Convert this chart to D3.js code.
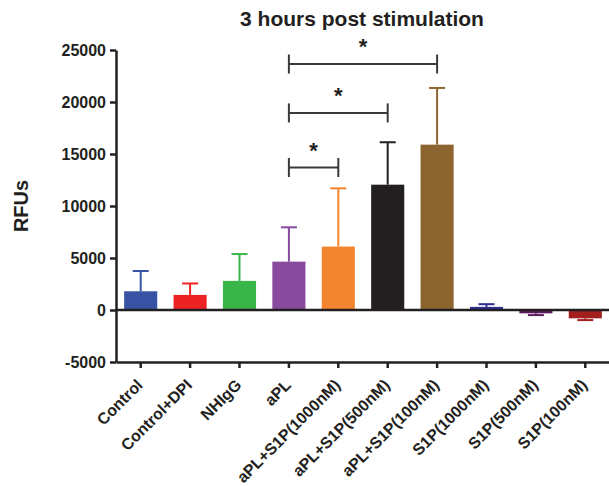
<!DOCTYPE html>
<html>
<head>
<meta charset="utf-8">
<script src="https://cdn.jsdelivr.net/npm/d3@7"></script>
<style>
  body { margin: 0; background: #fff; }
  text { font-family: "Liberation Sans", Arial, sans-serif; font-weight: bold; fill: #231f20; }
</style>
</head>
<body>
<div class="canva"></div>
<script>
// data
const groups = ['Control', 'Control+DPI', 'NHIgG', 'aPL', 'aPL+S1P(1000nM)',
  'aPL+S1P(500nM)', 'aPL+S1P(100nM)', 'S1P(1000nM)', 'S1P(500nM)', 'S1P(100nM)'];
const means = [1800, 1450, 2800, 4650, 6100, 12050, 15900, 300, -320, -800];
const sds = [1950, 1100, 2580, 3300, 5600, 4080, 5450, 260, 170, 170];
const colors = ['#3953a4', '#ed2224', '#3ab54a', '#874a9c', '#f3852f',
  '#231f20', '#8c6430', '#2e3192', '#5b1a5e', '#a3201f'];
const yTicks = [-5000, 0, 5000, 10000, 15000, 20000, 25000];
// significance brackets: from group, to group, height
const sigFrom = ['aPL', 'aPL', 'aPL'];
const sigTo = ['aPL+S1P(1000nM)', 'aPL+S1P(500nM)', 'aPL+S1P(100nM)'];
const sigLevel = [13700, 18950, 23650];

const width = 609, height = 486;
const margin = { left: 116, top: 50, bottom: 362, right: 610 };

const svg = d3.select('.canva').append('svg')
  .attr('width', width)
  .attr('height', height);

const y = d3.scaleLinear().domain([-5000, 25000]).range([margin.bottom, margin.top]);
const x = d3.scaleBand().domain(groups).range([margin.left, margin.right])
  .paddingInner(0.33).paddingOuter(0.165);

const data = groups.map((g, i) => ({ g, v: means[i], sd: sds[i], c: colors[i] }));

// bars
svg.selectAll('rect.bar').data(data).enter().append('rect')
  .attr('class', 'bar')
  .attr('x', d => x(d.g))
  .attr('width', x.bandwidth())
  .attr('y', d => y(Math.max(0, d.v)))
  .attr('height', d => Math.abs(y(d.v) - y(0)))
  .attr('fill', d => d.c);

// error bars (one-sided, away from zero)
const cap = 8;
const errEnd = d => y(d.v >= 0 ? d.v + d.sd : d.v - d.sd);
const mid = d => x(d.g) + x.bandwidth() / 2;
const err = svg.selectAll('g.err').data(data).enter().append('g').attr('class', 'err');
err.append('line')
  .attr('x1', mid).attr('x2', mid)
  .attr('y1', d => y(d.v)).attr('y2', errEnd)
  .attr('stroke', d => d.c).attr('stroke-width', 2);
err.append('line')
  .attr('x1', d => mid(d) - cap).attr('x2', d => mid(d) + cap)
  .attr('y1', errEnd).attr('y2', errEnd)
  .attr('stroke', d => d.c).attr('stroke-width', 2);

// axes
const yAxis = d3.axisLeft(y).tickValues(yTicks).tickFormat(d => d).tickSize(6).tickSizeOuter(0);
const yAxisGroup = svg.append('g').attr('transform', `translate(${margin.left},0)`).call(yAxis);

const xAxis = d3.axisBottom(x).tickSize(6).tickSizeOuter(0);
const xAxisGroup = svg.append('g').attr('transform', `translate(0,${margin.bottom})`).call(xAxis);

[yAxisGroup, xAxisGroup].forEach(g => {
  g.attr('font-family', null).attr('font-size', null);
  g.select('.domain').attr('stroke', '#231f20').attr('stroke-width', 2.5);
  g.selectAll('.tick line').attr('stroke', '#231f20').attr('stroke-width', 2.5);
});
yAxisGroup.selectAll('text')
  .style('font-size', '16px')
  .attr('x', -10)
  .attr('dy', '0.36em');

xAxisGroup.selectAll('text')
  .style('font-size', '16px')
  .attr('text-anchor', 'end')
  .attr('y', 0)
  .attr('dy', 0)
  .attr('transform', 'translate(3,24) rotate(-45)');

// zero line
svg.append('line')
  .attr('x1', margin.left).attr('x2', margin.right)
  .attr('y1', y(0)).attr('y2', y(0))
  .attr('stroke', '#231f20').attr('stroke-width', 2.5);

// significance brackets
const tickH = 9.5;
sigFrom.forEach((f, i) => {
  const x1 = x(f) + x.bandwidth() / 2;
  const x2 = x(sigTo[i]) + x.bandwidth() / 2;
  const yy = y(sigLevel[i]);
  const g = svg.append('g').attr('stroke', '#3a3a3a').attr('stroke-width', 2);
  g.append('line').attr('x1', x1).attr('x2', x2).attr('y1', yy).attr('y2', yy);
  g.append('line').attr('x1', x1).attr('x2', x1).attr('y1', yy - tickH).attr('y2', yy + tickH);
  g.append('line').attr('x1', x2).attr('x2', x2).attr('y1', yy - tickH).attr('y2', yy + tickH);
  svg.append('text')
    .attr('x', (x1 + x2) / 2)
    .attr('y', yy - 10)
    .attr('text-anchor', 'middle')
    .style('font-size', '22px')
    .text('*');
});

// title and y label
svg.append('text')
  .attr('x', 362).attr('y', 26)
  .attr('text-anchor', 'middle')
  .style('font-size', '21px')
  .text('3 hours post stimulation');

svg.append('text')
  .attr('transform', 'translate(28,206) rotate(-90)')
  .attr('text-anchor', 'middle')
  .style('font-size', '20px')
  .text('RFUs');
</script>
</body>
</html>
